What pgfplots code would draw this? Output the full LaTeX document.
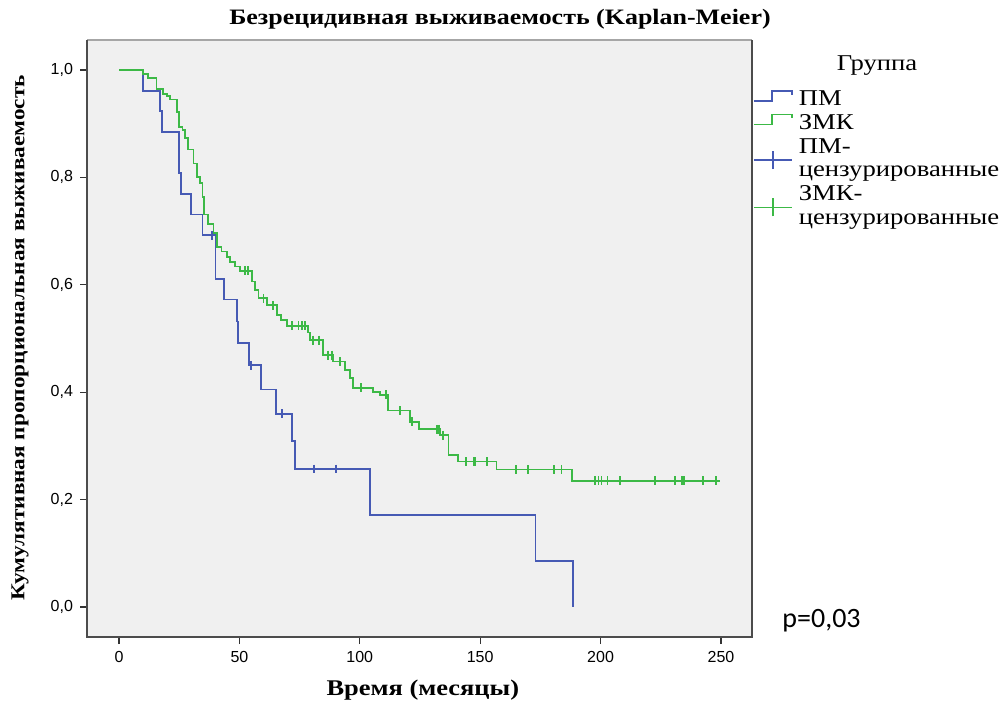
\documentclass[border=0pt]{standalone}
\usepackage{fontspec}
\setmainfont{Liberation Serif}
\newfontfamily\serifwide[FakeStretch=1.18]{Liberation Serif}
\newfontfamily\tickfont{Liberation Sans}
\newfontfamily\pfont{Carlito}
\usepackage{pgfplots}
\pgfplotsset{compat=1.18}

\definecolor{pmblue}{RGB}{70,90,180}
\definecolor{zmkgreen}{RGB}{60,185,70}
\definecolor{plotbg}{RGB}{240,240,240}
\newcommand\lstrut{\rule[-3.5pt]{0pt}{11.85pt}}

\begin{document}
\begin{tikzpicture}
\useasboundingbox (0pt,0pt) rectangle (499.5pt,350.5pt);
\begin{axis}[
    at={(43.5pt,32pt)}, anchor=south west,
    width=332.5pt, height=298.5pt, scale only axis,
    xmin=-13.3, xmax=262.9,
    ymin=-0.056, ymax=1.056,
    xtick={0,50,100,150,200,250},
    ytick={0,0.2,0.4,0.6,0.8,1.0},
    tick pos=left, tick align=outside,
    major tick length=3.5pt,
    tick style={black!80, line width=0.6pt},
    axis line style={draw=none},
    axis background/.style={fill=plotbg},
    clip=false,
    /pgf/number format/assume math mode=true,
    tick label style={font=\tickfont\fontsize{8}{9}\selectfont},
    yticklabel style={/pgf/number format/.cd, fixed, fixed zerofill, precision=1, use comma},
    title={Безрецидивная выживаемость (Kaplan-Meier)},
    title style={at={(axis description cs:0.621,1.034)}, anchor=center, yshift=-6pt,
        font=\serifwide\bfseries\fontsize{11}{13}\selectfont},
    xlabel={Время (месяцы)},
    xlabel style={at={(axis description cs:0.505,-0.089)}, anchor=center,
        font=\serifwide\bfseries\fontsize{11.2}{13}\selectfont},
    ylabel={Кумулятивная пропорциональная выживаемость},
    ylabel style={at={(axis description cs:-0.1008,0.5008)}, anchor=center,
        font=\serifwide\bfseries\fontsize{9.85}{12}\selectfont},
    legend style={at={(axis description cs:1.0015,0.918)}, anchor=north west,
        draw=none, fill=none, inner sep=0pt, outer sep=0pt,
        row sep=0pt, column sep=1pt,
        font=\serifwide\fontsize{11.3}{11.85}\selectfont,
        nodes={inner ysep=0pt, text depth=},
        cells={anchor=west, align=left}},
]
% ПМ
\addplot[const plot, pmblue, line width=0.9pt,
    legend image code/.code={\draw[pmblue, line width=0.9pt] (0pt,0pt) -- (9pt,0pt) -- (9pt,5pt) -- (19pt,5pt) -- (19pt,3pt);}]
coordinates {
(0,1) (9.8,0.9615) (17.0,0.9231) (17.7,0.8846) (24.9,0.8077) (25.7,0.7692)
(29.9,0.7308) (34.7,0.6923) (40.1,0.6109) (43.7,0.5727) (49.1,0.5318)
(49.5,0.4909) (54.1,0.4500) (59.0,0.4050) (65.1,0.3600) (72.0,0.3086)
(73.0,0.2571) (104.2,0.1714) (173.0,0.0857) (188.7,0)
};
\addlegendentry{\lstrut ПМ}
% ЗМК
\addplot[const plot, zmkgreen, line width=0.9pt,
    legend image code/.code={\draw[zmkgreen, line width=0.9pt] (0pt,0pt) -- (9pt,0pt) -- (9pt,5pt) -- (19pt,5pt) -- (19pt,3pt);}]
coordinates {
(0,1) (10.1,0.993) (12.2,0.985) (15.6,0.964) (18.4,0.956) (19.8,0.952)
(21.2,0.945) (24.0,0.922) (25.0,0.894) (26.4,0.888) (27.4,0.873)
(28.8,0.852) (30.9,0.826) (32.3,0.801) (33.6,0.789) (34.7,0.764)
(35.3,0.731) (37.1,0.714) (39.2,0.696) (40.6,0.671) (42.6,0.662)
(44.7,0.652) (46.1,0.643) (48.2,0.634) (50.2,0.626) (55.1,0.606)
(56.5,0.590) (57.9,0.575) (61.3,0.562) (65.5,0.544) (67.3,0.534)
(69.6,0.524) (78.6,0.511) (79.3,0.497) (84.8,0.469) (89.0,0.457)
(93.9,0.441) (95.9,0.426) (97.3,0.408) (105.6,0.401) (108.4,0.395)
(111.8,0.366) (120.8,0.345) (124.7,0.331) (133.3,0.320) (136.8,0.283)
(140.9,0.271) (156.8,0.256) (188.0,0.235) (249.6,0.235)
};
\addlegendentry{\lstrut ЗМК}
% ПМ censored
\addplot[only marks, mark=|, mark size=2.2pt, pmblue, mark options={line width=0.9pt},
    legend image code/.code={\draw[pmblue, line width=0.9pt] (0pt,0pt) -- (19pt,0pt); \draw[pmblue, line width=0.9pt] (9.5pt,-4.5pt) -- (9.5pt,4.5pt);}]
coordinates {
(38.5,0.6923) (54.8,0.4500) (67.8,0.3600) (81.0,0.2571) (90.0,0.2571)
};
\addlegendentry{\lstrut ПМ-\\цензурированные\lstrut}
% ЗМК censored
\addplot[only marks, mark=|, mark size=2.2pt, zmkgreen, mark options={line width=0.9pt},
    legend image code/.code={\draw[zmkgreen, line width=0.9pt] (0pt,0pt) -- (19pt,0pt); \draw[zmkgreen, line width=0.9pt] (9.5pt,-4.5pt) -- (9.5pt,4.5pt);}]
coordinates {
(52.3,0.626) (53.7,0.626) (60.0,0.575) (64.1,0.562) (71.7,0.524)
(74.5,0.524) (75.9,0.524) (77.2,0.524) (80.7,0.497) (83.2,0.497)
(86.9,0.469) (88.3,0.469) (91.8,0.457) (100.5,0.408) (110.9,0.395)
(116.7,0.366) (121.8,0.345) (131.9,0.331) (133.0,0.331) (134.4,0.320)
(144.0,0.271) (147.2,0.271) (147.8,0.271) (152.9,0.271) (164.9,0.256)
(169.7,0.256) (180.6,0.256) (183.8,0.256) (197.7,0.235) (199.1,0.235)
(200.4,0.235) (202.9,0.235) (208.0,0.235) (222.7,0.235) (230.9,0.235)
(233.7,0.235) (234.6,0.235) (242.7,0.235) (247.8,0.235)
};
\addlegendentry{\lstrut ЗМК-\\цензурированные\lstrut}
% frame
\draw[gray!70, line width=0.6pt] (rel axis cs:0,1) -- (rel axis cs:1,1);
\draw[black!70, line width=1.1pt] (rel axis cs:0,1) -- (rel axis cs:0,0) -- (rel axis cs:1,0) -- (rel axis cs:1,1);
\end{axis}
\node[font=\serifwide\fontsize{11.3}{13}\selectfont] at (438.5pt,317.5pt) {Группа};
\node[font=\pfont\fontsize{14}{16}\selectfont, anchor=base west, inner sep=0pt] at (391pt,37pt) {p=0,03};
\end{tikzpicture}
\end{document}
